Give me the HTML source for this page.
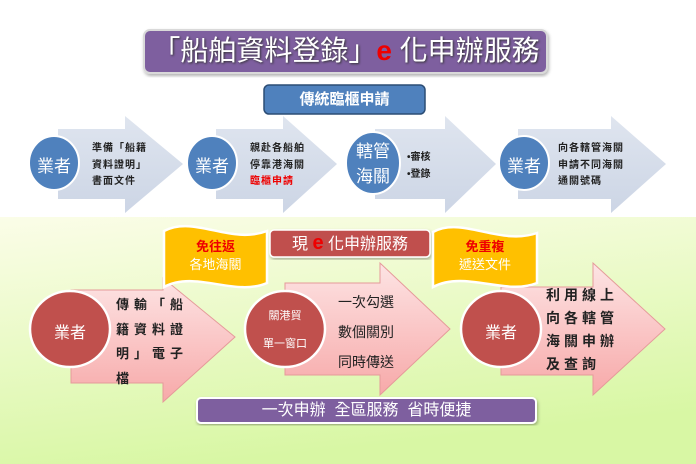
<!DOCTYPE html>
<html><head><meta charset="utf-8"><style>
body{margin:0;width:696px;height:464px;overflow:hidden;font-family:"Liberation Sans","Noto Sans CJK TC",sans-serif;}
.t{position:absolute;white-space:nowrap;}
</style></head><body>
<svg width="696" height="464" style="position:absolute;left:0;top:0">
<defs>
<linearGradient id="bg" x1="0" y1="0" x2="0.3" y2="1"><stop offset="0" stop-color="#fbfde8"/><stop offset="1" stop-color="#d8f7a4"/></linearGradient>
<linearGradient id="pk" x1="0" y1="0" x2="0" y2="1"><stop offset="0" stop-color="#fde4e4"/><stop offset="1" stop-color="#f7a9a9"/></linearGradient>
<linearGradient id="gr" x1="0" y1="0" x2="0" y2="1"><stop offset="0" stop-color="#dfe5ef"/><stop offset="1" stop-color="#ccd5e5"/></linearGradient>
<filter id="sh"><feDropShadow dx="1" dy="2" stdDeviation="1.5" flood-color="#000" flood-opacity="0.3"/></filter>
</defs>
<rect x="0" y="0" width="696" height="217" fill="#fff"/>
<rect x="0" y="217" width="696" height="247" fill="url(#bg)"/>
<g fill="url(#gr)">
<polygon points="58,129 125,129 125,116 183,164 125,213 125,199 58,199"/>
<polygon points="216,129 283,129 283,116 337,164 283,213 283,199 216,199"/>
<polygon points="375,129 445,129 445,116 496,164 445,213 445,199 375,199"/>
<polygon points="518,129 611,129 611,116 666,164 611,213 611,199 518,199"/>
</g>
<g fill="#4f81bd" stroke="#fff" stroke-width="2">
<ellipse cx="54" cy="163" rx="25" ry="27"/>
<ellipse cx="212" cy="163" rx="25" ry="27"/>
<ellipse cx="373" cy="163" rx="27" ry="31"/>
<ellipse cx="524" cy="163" rx="25" ry="27"/>
</g>
<rect x="144" y="30" width="403" height="43" rx="6" fill="#7e5f9f" stroke="#d9d9d9" stroke-width="2" filter="url(#sh)"/>
<rect x="264" y="85" width="161" height="29" rx="5" fill="#4f81bd" stroke="#2c4d75" stroke-width="1.5"/>
<g fill="url(#pk)" stroke="#e59a9a" stroke-width="1">
<polygon points="71,290 163,290 163,278 235,337 163,402 163,383 71,383"/>
<polygon points="285,283 380,283 380,263 450,329 380,395 380,375 285,375"/>
<polygon points="501,287 593,287 593,263 665,329 593,395 593,375 501,375"/>
</g>
<g fill="#c0504d" stroke="#fff" stroke-width="2.5">
<ellipse cx="70" cy="329" rx="40" ry="38"/>
<ellipse cx="285" cy="329" rx="40" ry="38"/>
<ellipse cx="501" cy="329" rx="40" ry="38"/>
</g>
<rect x="270" y="230" width="160" height="27" rx="4" fill="#c0504d" stroke="#fff" stroke-width="1.5" filter="url(#sh)"/>
<g fill="#ffc000" stroke="#fff" stroke-width="2.5">
<path d="M164,231 C195,215 230,245 267,231 L267,283 C235,297 195,270 164,287 Z"/>
<path d="M433,232 C462,216 500,246 537,233 L537,283 C505,296 465,270 433,287 Z"/>
</g>
<rect x="197" y="398" width="339" height="25" rx="4" fill="#7e5f9f" stroke="#fff" stroke-width="2" filter="url(#sh)"/>
</svg>
<div class="t" style="left:150px;top:31px;width:392px;text-align:center;font-size:28px;line-height:40px;color:#fff;text-shadow:1px 1px 2px #333">「船舶資料登錄」<span style="color:#e00;font-weight:bold;font-family:'Liberation Sans',sans-serif;text-shadow:none">e</span> 化申辦服務</div>
<div class="t" style="left:264px;top:86px;width:161px;text-align:center;font-size:15px;line-height:27px;color:#fff;font-weight:bold">傳統臨櫃申請</div>
<div class="t" style="left:29px;top:152px;width:50px;text-align:center;font-size:17px;color:#fff">業者</div>
<div class="t" style="left:187px;top:152px;width:50px;text-align:center;font-size:17px;color:#fff">業者</div>
<div class="t" style="left:346px;top:139px;width:54px;text-align:center;font-size:17px;line-height:25px;color:#fff">轄管<br>海關</div>
<div class="t" style="left:499px;top:152px;width:50px;text-align:center;font-size:17px;color:#fff">業者</div>
<div class="t" style="left:92px;top:141px;font-size:10px;line-height:16.5px;font-weight:bold;letter-spacing:1px;color:#222">準備「船籍<br>資料證明」<br>書面文件</div>
<div class="t" style="left:250px;top:141px;font-size:10px;line-height:16.5px;font-weight:bold;letter-spacing:1px;color:#222">親赴各船舶<br>停靠港海關<br><span style="color:#e00">臨櫃申請</span></div>
<div class="t" style="left:407px;top:149px;font-size:10px;line-height:17px;font-weight:bold;color:#222">•審核<br>•登錄</div>
<div class="t" style="left:558px;top:141px;font-size:10px;line-height:16.5px;font-weight:bold;letter-spacing:1px;color:#222">向各轄管海關<br>申請不同海關<br>通關號碼</div>
<div class="t" style="left:272px;top:231px;width:156px;text-align:center;font-size:16px;line-height:25px;color:#fff">現 <span style="color:#e00;font-weight:bold;font-size:20px">e</span> 化申辦服務</div>
<div class="t" style="left:164px;top:238px;width:103px;text-align:center;font-size:13px;line-height:18px;color:#fff"><b style="color:#e00">免往返</b><br>各地海關</div>
<div class="t" style="left:433px;top:238px;width:104px;text-align:center;font-size:13px;line-height:18px;color:#fff"><b style="color:#e00">免重複</b><br>遞送文件</div>
<div class="t" style="left:30px;top:319px;width:80px;text-align:center;font-size:16px;color:#fff">業者</div>
<div class="t" style="left:245px;top:302px;width:80px;text-align:center;font-size:11px;line-height:28px;color:#fff">關港貿<br>單一窗口</div>
<div class="t" style="left:461px;top:319px;width:80px;text-align:center;font-size:16px;color:#fff">業者</div>
<div class="t" style="left:116px;top:293px;font-size:13px;line-height:24.5px;font-weight:bold;letter-spacing:5px;color:#222">傳輸「船<br>籍資料證<br>明」電子<br>檔</div>
<div class="t" style="left:338px;top:287px;font-size:14px;line-height:30px;color:#222">一次勾選<br>數個關別<br>同時傳送</div>
<div class="t" style="left:546px;top:284px;font-size:14px;line-height:23px;font-weight:bold;letter-spacing:4px;color:#222">利用線上<br>向各轄管<br>海關申辦<br>及查詢</div>
<div class="t" style="left:197px;top:399px;width:339px;text-align:center;font-size:16px;line-height:23px;color:#fff">一次申辦&nbsp;&nbsp;全區服務&nbsp;&nbsp;省時便捷</div>
</body></html>
